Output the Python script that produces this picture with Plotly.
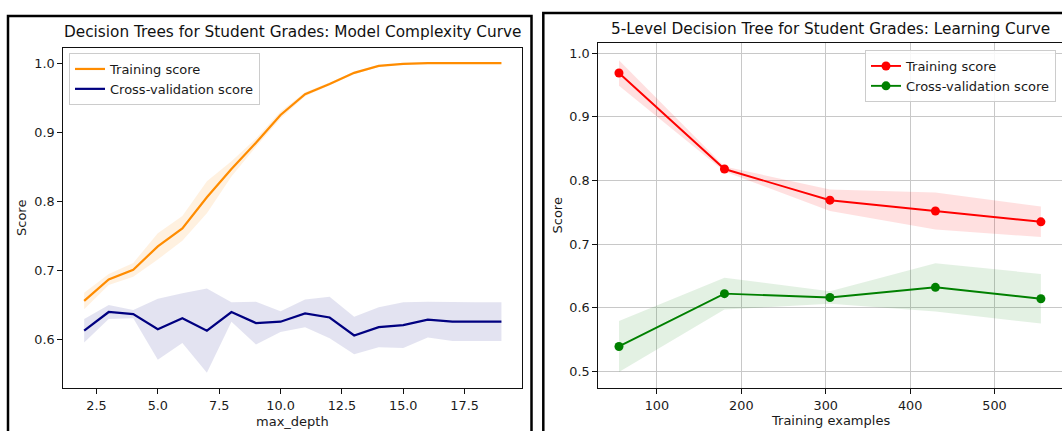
import plotly.graph_objects as go

# ---------------- data ----------------
# Left: model complexity (validation) curve
max_depth = list(range(2, 20))
mc_train_mean = [0.656, 0.687, 0.701, 0.735, 0.761, 0.806, 0.847, 0.885, 0.925,
                 0.955, 0.970, 0.986, 0.996, 0.999, 1.000, 1.000, 1.000, 1.000]
mc_train_std = [0.012, 0.008, 0.010, 0.019, 0.018, 0.023, 0.011, 0.006, 0.005,
                0.003, 0.002, 0.002, 0.001, 0.001, 0.000, 0.000, 0.000, 0.000]
mc_cv_mean = [0.613, 0.640, 0.637, 0.615, 0.631, 0.613, 0.640, 0.624, 0.626,
              0.638, 0.632, 0.606, 0.618, 0.621, 0.629, 0.626, 0.626, 0.626]
mc_cv_std = [0.017, 0.010, 0.006, 0.044, 0.036, 0.061, 0.014, 0.031, 0.015,
             0.020, 0.030, 0.027, 0.029, 0.033, 0.026, 0.028, 0.028, 0.028]

# Right: learning curve
train_sizes = [55, 180, 305, 430, 555]
lc_train_mean = [0.969, 0.818, 0.769, 0.752, 0.735]
lc_train_std = [0.020, 0.004, 0.017, 0.029, 0.024]
lc_cv_mean = [0.539, 0.622, 0.616, 0.632, 0.614]
lc_cv_std = [0.040, 0.025, 0.010, 0.038, 0.039]

left_title = "Decision Trees for Student Grades: Model Complexity Curve"
right_title = "5-Level Decision Tree for Student Grades: Learning Curve"
series_names = ["Training score", "Cross-validation score"]

FONT = "DejaVu Sans"
W, H = 1062, 431


def band(x, mean, std):
    up = [m + s for m, s in zip(mean, std)]
    lo = [m - s for m, s in zip(mean, std)]
    return list(x) + list(x)[::-1], up + lo[::-1]


fig = go.Figure()

# ---- left panel ----
bx, by = band(max_depth, mc_train_mean, mc_train_std)
fig.add_trace(go.Scatter(x=bx, y=by, fill="toself", mode="lines", line=dict(width=0),
                         fillcolor="rgba(255,140,0,0.12)", showlegend=False,
                         hoverinfo="skip", xaxis="x", yaxis="y"))
bx, by = band(max_depth, mc_cv_mean, mc_cv_std)
fig.add_trace(go.Scatter(x=bx, y=by, fill="toself", mode="lines", line=dict(width=0),
                         fillcolor="rgba(0,0,128,0.11)", showlegend=False,
                         hoverinfo="skip", xaxis="x", yaxis="y"))
fig.add_trace(go.Scatter(x=max_depth, y=mc_train_mean, mode="lines", name=series_names[0],
                         line=dict(color="#ff8c00", width=2.2), xaxis="x", yaxis="y",
                         legend="legend"))
fig.add_trace(go.Scatter(x=max_depth, y=mc_cv_mean, mode="lines", name=series_names[1],
                         line=dict(color="#000080", width=2.2), xaxis="x", yaxis="y",
                         legend="legend"))

# ---- right panel ----
bx, by = band(train_sizes, lc_train_mean, lc_train_std)
fig.add_trace(go.Scatter(x=bx, y=by, fill="toself", mode="lines", line=dict(width=0),
                         fillcolor="rgba(255,0,0,0.12)", showlegend=False,
                         hoverinfo="skip", xaxis="x2", yaxis="y2"))
bx, by = band(train_sizes, lc_cv_mean, lc_cv_std)
fig.add_trace(go.Scatter(x=bx, y=by, fill="toself", mode="lines", line=dict(width=0),
                         fillcolor="rgba(0,128,0,0.11)", showlegend=False,
                         hoverinfo="skip", xaxis="x2", yaxis="y2"))
fig.add_trace(go.Scatter(x=train_sizes, y=lc_train_mean, mode="lines+markers",
                         name=series_names[0],
                         line=dict(color="#ff0000", width=1.9),
                         marker=dict(color="#ff0000", size=9),
                         xaxis="x2", yaxis="y2", legend="legend2"))
fig.add_trace(go.Scatter(x=train_sizes, y=lc_cv_mean, mode="lines+markers",
                         name=series_names[1],
                         line=dict(color="#008000", width=1.9),
                         marker=dict(color="#008000", size=9),
                         xaxis="x2", yaxis="y2", legend="legend2"))

tickfont = dict(family=FONT, size=12.8, color="#1a1a1a")
common_ax = dict(showline=True, linecolor="#111", linewidth=1.2, mirror=True,
                 ticks="outside", ticklen=5, tickwidth=1, tickcolor="#111",
                 tickfont=tickfont, zeroline=False)

fig.update_layout(
    width=W, height=H,
    margin=dict(l=0, r=0, t=0, b=0),
    paper_bgcolor="white", plot_bgcolor="white",
    font=dict(family=FONT, color="#1a1a1a"),
    xaxis=dict(domain=[63.3 / W, 522.3 / W], range=[1.15, 19.85], anchor="y",
               tick0=0, dtick=2.5, tickformat=".1f", showgrid=False, **common_ax),
    yaxis=dict(domain=[1 - 388.3 / H, 1 - 47.7 / H], range=[0.5296, 1.0224], anchor="x",
               tick0=0, dtick=0.1, tickformat=".1f", showgrid=False, **common_ax),
    xaxis2=dict(domain=[598.3 / W, 1.0], range=[30.5, 580], anchor="y2",
                tick0=0, dtick=100, tickformat="d", showgrid=True,
                gridcolor="#c8c8c8", gridwidth=1, **common_ax),
    yaxis2=dict(domain=[1 - 388.3 / H, 1 - 43.3 / H], range=[0.4732, 1.0157], anchor="x2",
                tick0=0, dtick=0.1, tickformat=".1f", showgrid=True,
                gridcolor="#c8c8c8", gridwidth=1, **common_ax),
    legend=dict(x=69 / W, y=1 - 53 / H, xanchor="left", yanchor="top",
                bgcolor="rgba(255,255,255,0.85)", bordercolor="#cccccc", borderwidth=1,
                font=dict(family=FONT, size=13, color="#1a1a1a"),
                tracegroupgap=0, itemwidth=30),
    legend2=dict(x=1056 / W, y=1 - 50 / H, xanchor="right", yanchor="top",
                 bgcolor="rgba(255,255,255,0.85)", bordercolor="#cccccc", borderwidth=1,
                 font=dict(family=FONT, size=13, color="#1a1a1a"),
                 tracegroupgap=0, itemwidth=30),
    showlegend=True,
)

ann = []
# titles
ann.append(dict(text=left_title, x=292.8 / W, y=1 - 32 / H, xref="paper", yref="paper",
                showarrow=False, xanchor="center", yanchor="middle",
                font=dict(family=FONT, size=15.3, color="#111")))
ann.append(dict(text=right_title, x=830 / W, y=1 - 29 / H, xref="paper", yref="paper",
                showarrow=False, xanchor="center", yanchor="middle",
                font=dict(family=FONT, size=15.3, color="#111")))
# axis titles
ann.append(dict(text="max_depth", x=292.8 / W, y=1 - 421.5 / H, xref="paper", yref="paper",
                showarrow=False, xanchor="center", yanchor="middle",
                font=dict(family=FONT, size=13, color="#1a1a1a")))
ann.append(dict(text="Training examples", x=830 / W, y=1 - 420.5 / H, xref="paper",
                yref="paper", showarrow=False, xanchor="center", yanchor="middle",
                font=dict(family=FONT, size=13, color="#1a1a1a")))
ann.append(dict(text="Score", x=21 / W, y=1 - 218 / H, xref="paper", yref="paper",
                showarrow=False, textangle=-90, xanchor="center", yanchor="middle",
                font=dict(family=FONT, size=13, color="#1a1a1a")))
ann.append(dict(text="Score", x=556.5 / W, y=1 - 216 / H, xref="paper", yref="paper",
                showarrow=False, textangle=-90, xanchor="center", yanchor="middle",
                font=dict(family=FONT, size=13, color="#1a1a1a")))
fig.update_layout(annotations=ann)

# outer frames around each panel
fig.update_layout(shapes=[
    dict(type="rect", xref="paper", yref="paper", x0=8 / W, x1=531.5 / W,
         y0=-0.05, y1=1 - 16 / H, line=dict(color="black", width=2.5),
         fillcolor="rgba(0,0,0,0)", layer="above"),
    dict(type="rect", xref="paper", yref="paper", x0=543.3 / W, x1=1.05,
         y0=-0.05, y1=1 - 13 / H, line=dict(color="black", width=2.5),
         fillcolor="rgba(0,0,0,0)", layer="above"),
])

fig.write_html("out.html", config={"displayModeBar": False},
               post_script="document.body.style.margin='0';")
